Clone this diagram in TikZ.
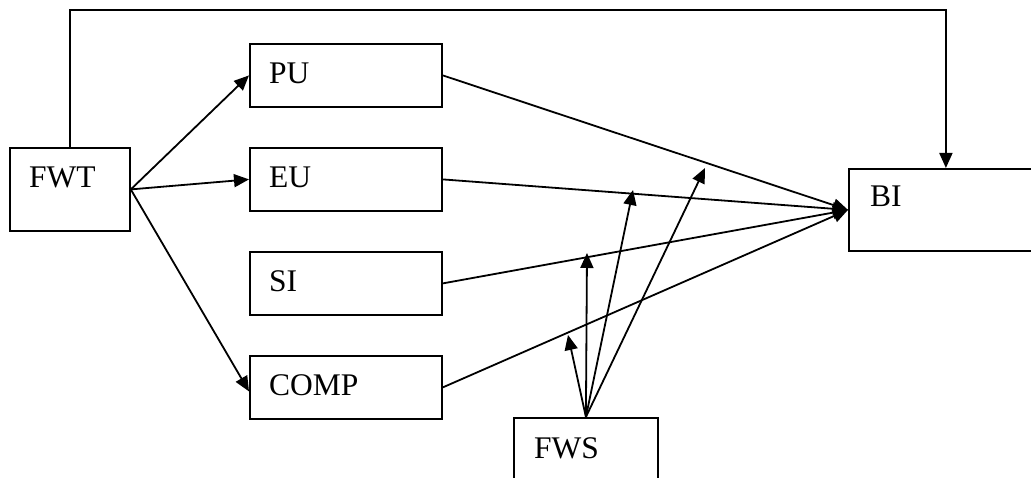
\documentclass[tikz,border=0pt]{standalone}
\usepackage{fontspec}
\setmainfont{Liberation Serif}
\usetikzlibrary{arrows.meta}
\begin{document}
\begin{tikzpicture}[x=1pt,y=-1pt,
  box/.style={draw=black,line width=1.8pt,rectangle,inner sep=0pt,anchor=north west},
  txt/.style={anchor=base west,inner sep=0pt,font=\fontsize{31.5}{36}\selectfont},
  arr/.style={draw=black,line width=1.8pt,-{Triangle[length=15pt,width=13pt]}}]
\useasboundingbox (0,0) rectangle (1031,478);
\clip (0,0) rectangle (1031,478);
\fill[white] (0,0) rectangle (1031,478);
% boxes
\node[box,minimum width=120pt,minimum height=83pt] (fwt) at (9,147) {};
\node[box,minimum width=192pt,minimum height=63pt] (pu) at (249,43) {};
\node[box,minimum width=192pt,minimum height=63pt] (eu) at (249,147) {};
\node[box,minimum width=192pt,minimum height=63pt] (si) at (249,251) {};
\node[box,minimum width=192pt,minimum height=63pt] (comp) at (249,355) {};
\node[box,minimum width=194pt,minimum height=82pt] (bi) at (848,168) {};
\node[box,minimum width=144pt,minimum height=90pt] (fws) at (513,417) {};
% labels
\node[txt] at (29,188) {FWT};
\node[txt] at (269,84) {PU};
\node[txt] at (269,188) {EU};
\node[txt] at (269,292) {SI};
\node[txt] at (269,395) {COMP};
\node[txt] at (870,207) {BI};
\node[txt] at (534,458) {FWS};
% free ends of the moderating arrows
\coordinate (top) at (0,10);
\coordinate (m1) at (568,335);
\coordinate (m2) at (587,253);
\coordinate (m3) at (633,190);
\coordinate (m4) at (705,168);
% connectors
\draw[arr] (fwt.north) -- (fwt.north |- top) -| (bi.north);
\draw[arr] (fwt.east) -- (pu.west);
\draw[arr] (fwt.east) -- (eu.west);
\draw[arr] (fwt.east) -- ([yshift=-4pt]comp.west);
\draw[arr] (pu.east) -- (bi.west);
\draw[arr] (eu.east) -- (bi.west);
\draw[arr] (si.east) -- (bi.west);
\draw[arr] (comp.east) -- (bi.west);
\draw[arr] (fws.north) -- (m1);
\draw[arr] (fws.north) -- (m2);
\draw[arr] (fws.north) -- (m3);
\draw[arr] (fws.north) -- (m4);
\end{tikzpicture}
\end{document}
